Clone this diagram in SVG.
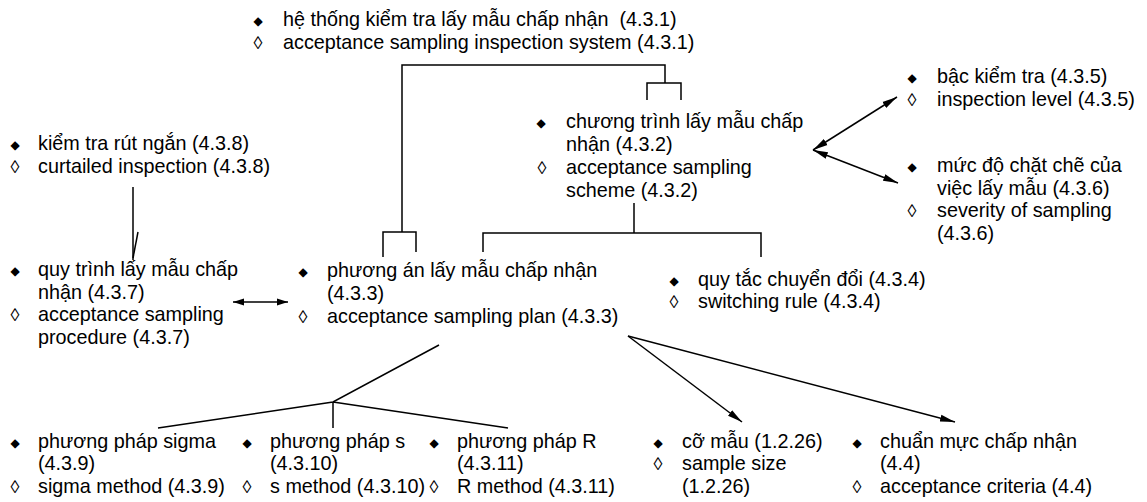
<svg xmlns="http://www.w3.org/2000/svg" width="1147" height="502" viewBox="0 0 1147 502">
  <style>
    .t { font-family: "Liberation Sans", Arial, sans-serif; font-size: 19.8px; fill: #000; }
    .b { font-family: "DejaVu Sans", sans-serif; font-size: 12px; fill: #000; text-anchor: middle; }
    .l { font-family: "Liberation Sans", Arial, sans-serif; font-size: 18px; fill: #000; text-anchor: middle; }
    .c { fill: none; stroke: #000; stroke-width: 1.5; }
  </style>
  <defs>
    <marker id="ah" markerUnits="userSpaceOnUse" markerWidth="16" markerHeight="8" refX="15" refY="4" orient="auto-start-reverse">
      <path d="M0,0.5 L15,4 L0,7.5 Z" fill="#000"/>
    </marker>
    <marker id="ahs" markerUnits="userSpaceOnUse" markerWidth="12" markerHeight="8" refX="11" refY="4" orient="auto-start-reverse">
      <path d="M0,0.5 L11,4 L0,7.5 Z" fill="#000"/>
    </marker>
  </defs>
  <rect width="1147" height="502" fill="#fff"/>

  <g id="connectors">
    <!-- system to plan and scheme -->
    <polyline class="c" points="402,232 402,65 665,65 665,83"/>
    <polyline class="c" points="647,100 647,83 681,83 681,100"/>
    <polyline class="c" points="383,257 383,232 416,232 416,252"/>
    <!-- scheme to plan and switching rule -->
    <line class="c" x1="634" y1="203" x2="634" y2="233"/>
    <polyline class="c" points="483,252 483,233 761,233 761,257"/>
    <!-- scheme to level and severity -->
    <line class="c" x1="813" y1="150" x2="897" y2="97" marker-start="url(#ah)" marker-end="url(#ah)"/>
    <line class="c" x1="813" y1="150" x2="898" y2="183" marker-start="url(#ah)" marker-end="url(#ah)"/>
    <!-- curtailed inspection to procedure -->
    <line class="c" x1="133" y1="187" x2="133" y2="260"/>
    <line class="c" x1="138" y1="232" x2="133" y2="258"/>
    <!-- procedure to plan -->
    <line class="c" x1="233" y1="302" x2="288" y2="302" marker-start="url(#ahs)" marker-end="url(#ahs)"/>
    <!-- plan to methods -->
    <polyline class="c" points="439,345 333,402 158,428"/>
    <line class="c" x1="333" y1="402" x2="333" y2="428"/>
    <line class="c" x1="333" y1="402" x2="508" y2="428"/>
    <!-- plan to sample size and criteria -->
    <line class="c" x1="628" y1="336" x2="742" y2="422" marker-end="url(#ah)"/>
    <line class="c" x1="628" y1="336" x2="955" y2="422" marker-end="url(#ah)"/>
  </g>

  <g id="n431">
    <text class="b" x="258" y="25">◆</text>
    <text class="t" x="283" y="26" xml:space="preserve">hệ thống kiểm tra lấy mẫu chấp nhận  (4.3.1)</text>
    <text class="l" x="258" y="49">◊</text>
    <text class="t" x="283" y="49">acceptance sampling inspection system (4.3.1)</text>
  </g>

  <g id="n432">
    <text class="b" x="541" y="127">◆</text>
    <text class="t" x="566" y="128">chương trình lấy mẫu chấp</text>
    <text class="t" x="566" y="151">nhận (4.3.2)</text>
    <text class="l" x="542" y="174">◊</text>
    <text class="t" x="566" y="174">acceptance sampling</text>
    <text class="t" x="566" y="197">scheme (4.3.2)</text>
  </g>

  <g id="n435">
    <text class="b" x="912" y="82">◆</text>
    <text class="t" x="937" y="83">bậc kiểm tra (4.3.5)</text>
    <text class="l" x="912" y="106">◊</text>
    <text class="t" x="937" y="106">inspection level (4.3.5)</text>
  </g>

  <g id="n436">
    <text class="b" x="912" y="171">◆</text>
    <text class="t" x="937" y="172">mức độ chặt chẽ của</text>
    <text class="t" x="937" y="195">việc lấy mẫu (4.3.6)</text>
    <text class="l" x="912" y="217">◊</text>
    <text class="t" x="937" y="217">severity of sampling</text>
    <text class="t" x="937" y="240">(4.3.6)</text>
  </g>

  <g id="n438">
    <text class="b" x="15" y="149">◆</text>
    <text class="t" x="38" y="150">kiểm tra rút ngắn (4.3.8)</text>
    <text class="l" x="15" y="173">◊</text>
    <text class="t" x="38" y="173">curtailed inspection (4.3.8)</text>
  </g>

  <g id="n437">
    <text class="b" x="15" y="275">◆</text>
    <text class="t" x="38" y="276">quy trình lấy mẫu chấp</text>
    <text class="t" x="38" y="299">nhận (4.3.7)</text>
    <text class="l" x="15" y="321">◊</text>
    <text class="t" x="38" y="321">acceptance sampling</text>
    <text class="t" x="38" y="344">procedure (4.3.7)</text>
  </g>

  <g id="n433">
    <text class="b" x="303" y="276">◆</text>
    <text class="t" x="327" y="277">phương án lấy mẫu chấp nhận</text>
    <text class="t" x="327" y="300">(4.3.3)</text>
    <text class="l" x="303" y="323">◊</text>
    <text class="t" x="327" y="323">acceptance sampling plan (4.3.3)</text>
  </g>

  <g id="n434">
    <text class="b" x="674" y="285">◆</text>
    <text class="t" x="698" y="286">quy tắc chuyển đổi (4.3.4)</text>
    <text class="l" x="674" y="308">◊</text>
    <text class="t" x="698" y="308">switching rule (4.3.4)</text>
  </g>

  <g id="n439">
    <text class="b" x="15" y="447">◆</text>
    <text class="t" x="38" y="448">phương pháp sigma</text>
    <text class="t" x="38" y="470">(4.3.9)</text>
    <text class="l" x="15" y="493">◊</text>
    <text class="t" x="38" y="493">sigma method (4.3.9)</text>
  </g>

  <g id="n4310">
    <text class="b" x="247" y="447">◆</text>
    <text class="t" x="270" y="448">phương pháp s</text>
    <text class="t" x="270" y="470">(4.3.10)</text>
    <text class="l" x="247" y="493">◊</text>
    <text class="t" x="270" y="493">s method (4.3.10)</text>
  </g>

  <g id="n4311">
    <text class="b" x="434" y="447">◆</text>
    <text class="t" x="457" y="448">phương pháp R</text>
    <text class="t" x="457" y="470">(4.3.11)</text>
    <text class="l" x="434" y="493">◊</text>
    <text class="t" x="457" y="493">R method (4.3.11)</text>
  </g>

  <g id="n1226">
    <text class="b" x="658" y="447">◆</text>
    <text class="t" x="682" y="448">cỡ mẫu (1.2.26)</text>
    <text class="l" x="658" y="470">◊</text>
    <text class="t" x="682" y="470">sample size</text>
    <text class="t" x="682" y="493">(1.2.26)</text>
  </g>

  <g id="n44">
    <text class="b" x="857" y="447">◆</text>
    <text class="t" x="880" y="448">chuẩn mực chấp nhận</text>
    <text class="t" x="880" y="470">(4.4)</text>
    <text class="l" x="857" y="493">◊</text>
    <text class="t" x="880" y="493">acceptance criteria (4.4)</text>
  </g>
</svg>
